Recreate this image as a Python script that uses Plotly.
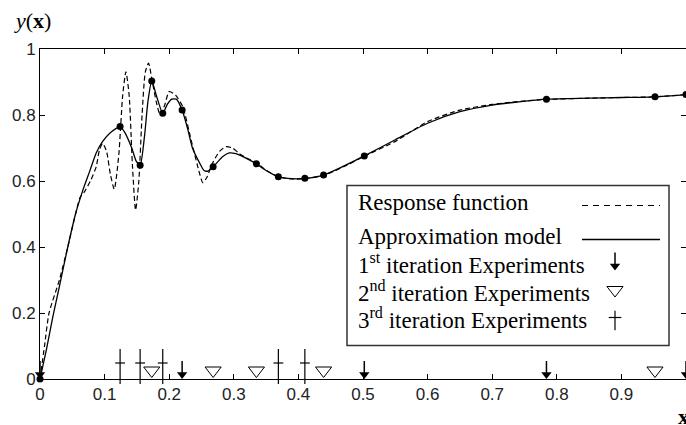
import plotly.graph_objects as go

# ---------------- data ----------------
# Approximation model (solid curve)
model_x = [0.0, 0.01, 0.02, 0.03, 0.043, 0.055, 0.066, 0.077, 0.087, 0.097, 0.108, 0.124,
           0.131, 0.142, 0.149, 0.155, 0.162, 0.167, 0.173, 0.18, 0.19, 0.197, 0.204, 0.211,
           0.22, 0.229, 0.236, 0.247, 0.254, 0.26, 0.268, 0.283, 0.293, 0.303, 0.314, 0.324,
           0.335, 0.35, 0.369, 0.39, 0.41, 0.439, 0.47, 0.502, 0.55, 0.6, 0.65, 0.7, 0.741,
           0.784, 0.85, 0.9, 0.952, 1.0]
model_y = [0.0, 0.09, 0.19, 0.28, 0.4, 0.5, 0.57, 0.63, 0.685, 0.72, 0.745, 0.765,
           0.748, 0.7, 0.66, 0.648, 0.74, 0.84, 0.903, 0.86, 0.805, 0.832, 0.848, 0.848,
           0.815, 0.755, 0.7, 0.655, 0.632, 0.63, 0.643, 0.674, 0.685, 0.683, 0.674, 0.664,
           0.652, 0.632, 0.613, 0.607, 0.608, 0.618, 0.645, 0.676, 0.725, 0.775, 0.81, 0.83, 0.84,
           0.848, 0.851, 0.853, 0.855, 0.862]

# Response function (dashed curve)
resp_x = [0.0, 0.007, 0.014, 0.03, 0.043, 0.055, 0.062, 0.069, 0.078, 0.087, 0.092, 0.097,
          0.103, 0.109, 0.115, 0.122, 0.128, 0.133, 0.138, 0.143, 0.148, 0.153, 0.158, 0.163,
          0.168, 0.174, 0.18, 0.186, 0.193, 0.2, 0.21, 0.221, 0.234, 0.247, 0.252, 0.258,
          0.267, 0.278, 0.288, 0.298, 0.308, 0.32, 0.335, 0.35, 0.369, 0.39, 0.41, 0.439,
          0.47, 0.502, 0.55, 0.6, 0.65, 0.7, 0.741, 0.784, 0.85, 0.9, 0.952, 1.0]
resp_y = [0.0, 0.1, 0.2, 0.3, 0.4, 0.5, 0.55, 0.568, 0.6, 0.643, 0.694, 0.714,
          0.69, 0.62, 0.575, 0.68, 0.86, 0.931, 0.86, 0.65, 0.512, 0.6, 0.8, 0.93,
          0.957, 0.9, 0.84, 0.8, 0.83, 0.871, 0.86, 0.825, 0.724, 0.623, 0.595, 0.61,
          0.654, 0.69, 0.704, 0.7, 0.684, 0.67, 0.655, 0.633, 0.613, 0.606, 0.607, 0.617,
          0.643, 0.675, 0.72, 0.78, 0.815, 0.832, 0.841, 0.847, 0.851, 0.853, 0.855, 0.862]

# Experiment locations per iteration
iter1_x = [0.0, 0.22, 0.502, 0.784, 1.0]
iter2_x = [0.173, 0.268, 0.335, 0.439, 0.952]
iter3_x = [0.124, 0.155, 0.19, 0.369, 0.41]

# Sampled response values (dots on the model)
sample_x = [0.0, 0.124, 0.155, 0.173, 0.19, 0.22, 0.268, 0.335, 0.369, 0.41, 0.439, 0.502,
            0.784, 0.952, 1.0]
sample_y = [0.0, 0.765, 0.648, 0.903, 0.805, 0.815, 0.643, 0.652, 0.613, 0.608, 0.618, 0.676,
            0.848, 0.855, 0.862]

x_ticks = [0, 0.1, 0.2, 0.3, 0.4, 0.5, 0.6, 0.7, 0.8, 0.9, 1.0]
x_tick_labels = ["0", "0.1", "0.2", "0.3", "0.4", "0.5", "0.6", "0.7", "0.8", "0.9", "1"]
y_ticks = [0, 0.2, 0.4, 0.6, 0.8, 1.0]
y_tick_labels = ["0", "0.2", "0.4", "0.6", "0.8", "1"]

legend_labels = ["Response function", "Approximation model",
                 "1<sup>st</sup> iteration Experiments",
                 "2<sup>nd</sup> iteration Experiments",
                 "3<sup>rd</sup> iteration Experiments"]

# ---------------- styling constants ----------------
W, H = 686, 425
ML, MR, MT, MB = 40, 0, 49, 46
PW = W - ML - MR
PH = H - MT - MB  # plot height in px
PX = 1.0 / PH     # one pixel in y data units (range 0..1)
AX = 378.5        # pixel row of the x axis
SERIF = "Liberation Serif, Times New Roman, serif"
TICKFONT = dict(family="Liberation Sans Narrow, Arial Narrow, Liberation Sans, Arial", size=17, color="#222")

fig = go.Figure()

fig.add_trace(go.Scatter(x=resp_x, y=resp_y, mode="lines",
                         line=dict(color="black", width=1.2, dash="5px,3px", shape="spline", smoothing=0.6),
                         showlegend=False, hoverinfo="skip"))
fig.add_trace(go.Scatter(x=model_x, y=model_y, mode="lines",
                         line=dict(color="black", width=1.3, shape="spline", smoothing=0.6),
                         showlegend=False, hoverinfo="skip"))
fig.add_trace(go.Scatter(x=sample_x, y=sample_y, mode="markers",
                         marker=dict(symbol="circle", size=7, color="black"),
                         showlegend=False, cliponaxis=False, hoverinfo="skip"))

def arrow_traces(xs, base):
    return [
        go.Scatter(x=xs, y=[base + 11 * PX] * len(xs), mode="markers",
                   marker=dict(symbol="line-ns", size=10, line=dict(color="black", width=1.5)),
                   showlegend=False, cliponaxis=False, hoverinfo="skip"),
        go.Scatter(x=xs, y=[base + 4.5 * PX] * len(xs), mode="markers",
                   marker=dict(symbol="triangle-down", size=9, color="black", line=dict(width=0)),
                   showlegend=False, cliponaxis=False, hoverinfo="skip"),
    ]

def tri_trace(xs, base):
    return go.Scatter(x=xs, y=[base + 8.5 * PX] * len(xs), mode="markers",
                      marker=dict(symbol="triangle-down-open", size=14, color="black",
                                  line=dict(color="black", width=1)),
                      showlegend=False, cliponaxis=False, hoverinfo="skip")

def dagger_traces(xs, base, h=25, bar=16, bw=7):
    return [
        go.Scatter(x=xs, y=[base + (h / 2) * PX] * len(xs), mode="markers",
                   marker=dict(symbol="line-ns", size=h, line=dict(color="black", width=1.2)),
                   showlegend=False, cliponaxis=False, hoverinfo="skip"),
        go.Scatter(x=xs, y=[base + bar * PX] * len(xs), mode="markers",
                   marker=dict(symbol="line-ew", size=bw, line=dict(color="black", width=1.2)),
                   showlegend=False, cliponaxis=False, hoverinfo="skip"),
    ]

for t in arrow_traces(iter1_x, 0.0):
    fig.add_trace(t)
fig.add_trace(tri_trace(iter2_x, 0.0))
for t in dagger_traces(iter3_x, 0.0):
    fig.add_trace(t)

# ---------------- legend (drawn manually, symbols on the right) ----------------
LX0, LX1 = (347 - ML) / PW, (669 - ML) / PW
LY0, LY1 = (AX - 345) * PX, (AX - 185) * PX
text_x = (356 - ML) / PW
text_centers = [202, 236, 263, 291, 318]
sym_x = (615 - ML) / PW
line_x0, line_x1 = (582 - ML) / PW, (660 - ML) / PW

shapes = [
    dict(type="rect", xref="paper", yref="paper", x0=LX0, x1=LX1, y0=LY0, y1=LY1,
         line=dict(color="#333", width=1.5), fillcolor="white", layer="below"),
    dict(type="line", xref="paper", yref="paper", x0=line_x0, x1=line_x1,
         y0=(AX - 205) * PX, y1=(AX - 205) * PX,
         line=dict(color="black", width=1.2, dash="6px,5px"), layer="above"),
    dict(type="line", xref="paper", yref="paper", x0=line_x0, x1=line_x1,
         y0=(AX - 239) * PX, y1=(AX - 239) * PX,
         line=dict(color="black", width=1.3), layer="above"),
]

annotations = []
for lab, c in zip(legend_labels, text_centers):
    annotations.append(dict(text=lab, xref="paper", yref="paper", x=text_x, y=(AX - c) * PX,
                            xanchor="left", yanchor="middle", showarrow=False,
                            font=dict(family=SERIF, size=23, color="black")))

annotations.append(dict(text="<i>y</i>(<b>x</b>)", xref="paper", yref="paper",
                        x=(12 - ML) / PW, y=(AX - 20) * PX, xanchor="left", yanchor="middle",
                        showarrow=False, font=dict(family=SERIF, size=22, color="black")))
annotations.append(dict(text="<b>x</b>", xref="paper", yref="paper",
                        x=(676 - ML) / PW, y=(AX - 416) * PX, xanchor="left", yanchor="middle",
                        showarrow=False, font=dict(family=SERIF, size=22, color="black")))

# legend symbols (both axes span 0..1, so data coordinates equal paper coordinates)
for t in arrow_traces([sym_x], (AX - 270) * PX):
    fig.add_trace(t)
fig.add_trace(tri_trace([sym_x], (AX - 298) * PX))
for t in dagger_traces([sym_x], (AX - 327) * PX, h=14, bar=10, bw=9):
    fig.add_trace(t)

axis_common = dict(showline=True, linecolor="black", linewidth=1, mirror="ticks",
                   ticks="inside", ticklen=5, tickwidth=1, tickcolor="black",
                   showgrid=False, zeroline=False, tickfont=TICKFONT, fixedrange=True)

fig.update_layout(
    width=W, height=H,
    margin=dict(l=ML, r=MR, t=MT, b=MB),
    paper_bgcolor="white", plot_bgcolor="white",
    xaxis=dict(range=[0, 1], tickvals=x_ticks, ticktext=x_tick_labels, **axis_common),
    yaxis=dict(range=[0, 1], tickvals=y_ticks, ticktext=y_tick_labels, **axis_common),
    shapes=shapes, annotations=annotations, showlegend=False,
)

fig.write_html("out.html")
